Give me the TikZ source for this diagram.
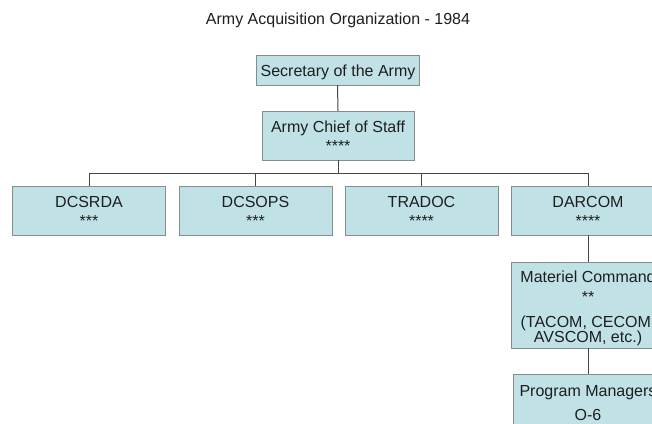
\documentclass[tikz,border=0pt]{standalone}
\usepackage{fontspec}
\setmainfont{Liberation Sans}
\definecolor{boxfill}{RGB}{192,226,230}
\definecolor{boxline}{RGB}{135,140,140}
\definecolor{connc}{RGB}{70,70,70}
\definecolor{txt}{RGB}{30,30,30}
\begin{document}
\begin{tikzpicture}[x=1pt,y=-1pt,
  box/.style={draw=boxline, fill=boxfill, line width=0.9pt, inner sep=0pt, outer sep=0pt},
  lbl/.style={anchor=base, font=\fontsize{16}{19}\selectfont, inner sep=0pt, text=txt},
  conn/.style={draw=connc, line width=1pt}]
\useasboundingbox (0,0) rectangle (652,423);
\clip (0,0) rectangle (652,423);
\fill[white] (0,0) rectangle (652,423);
% title
\node[lbl] (title) at (338,24) {Army Acquisition Organization - 1984};
% boxes
\node[box, minimum width=163pt, minimum height=30pt] (sec) at (337.5,70) {};
\node[box, minimum width=152pt, minimum height=49pt] (chief) at (338,135.5) {};
\node[box, minimum width=153pt, minimum height=49pt] (dcsrda) at (89,210.5) {};
\node[box, minimum width=153pt, minimum height=49pt] (dcsops) at (255.5,210.5) {};
\node[box, minimum width=153pt, minimum height=49pt] (tradoc) at (421.5,210.5) {};
\node[box, minimum width=153pt, minimum height=49pt] (darcom) at (588,210.5) {};
\node[box, minimum width=153pt, minimum height=86pt] (materiel) at (588,305.3) {};
\node[box, minimum width=151pt, minimum height=58pt] (pm) at (589,403) {};
% connectors
\coordinate (bus) at (0,173.3);
\draw[conn] (sec.south) -- (chief.north);
\draw[conn] (chief.south) -- (chief.south |- bus);
\draw[conn] (dcsrda.north) -- (dcsrda.north |- bus) -| (darcom.north);
\draw[conn] (dcsops.north) -- (dcsops.north |- bus);
\draw[conn] (tradoc.north) -- (tradoc.north |- bus);
\draw[conn] (darcom.south) -- (materiel.north);
\draw[conn] (materiel.south) -- (materiel.south |- pm.north);
% texts
\node[lbl] (secT) at (338,76.7) {Secretary of the Army};
\node[lbl] (chiefT) at (338,132.7) {Army Chief of Staff};
\node[lbl] (chiefS) at (338,151.5) {****};
\node[lbl] (dcsrdaT) at (89,207.7) {DCSRDA};
\node[lbl] (dcsrdaS) at (89,226.5) {***};
\node[lbl] (dcsopsT) at (255.5,207.7) {DCSOPS};
\node[lbl] (dcsopsS) at (255.5,226.5) {***};
\node[lbl] (tradocT) at (421.5,207.7) {TRADOC};
\node[lbl] (tradocS) at (421.5,226.5) {****};
\node[lbl] (darcomT) at (588,207.7) {DARCOM};
\node[lbl] (darcomS) at (588,226.5) {****};
\node[lbl] (matT1) at (588,282.7) {Materiel Command};
\node[lbl] (matT2) at (588,302.7) {**};
\node[lbl] (matT3) at (588,327.7) {(TACOM, CECOM,};
\node[lbl] (matT4) at (588,342.7) {AVSCOM, etc.)};
\node[lbl] (pmT1) at (588,396.7) {Program Managers};
\node[lbl] (pmT2) at (588,420) {O-6};
\end{tikzpicture}
\end{document}
